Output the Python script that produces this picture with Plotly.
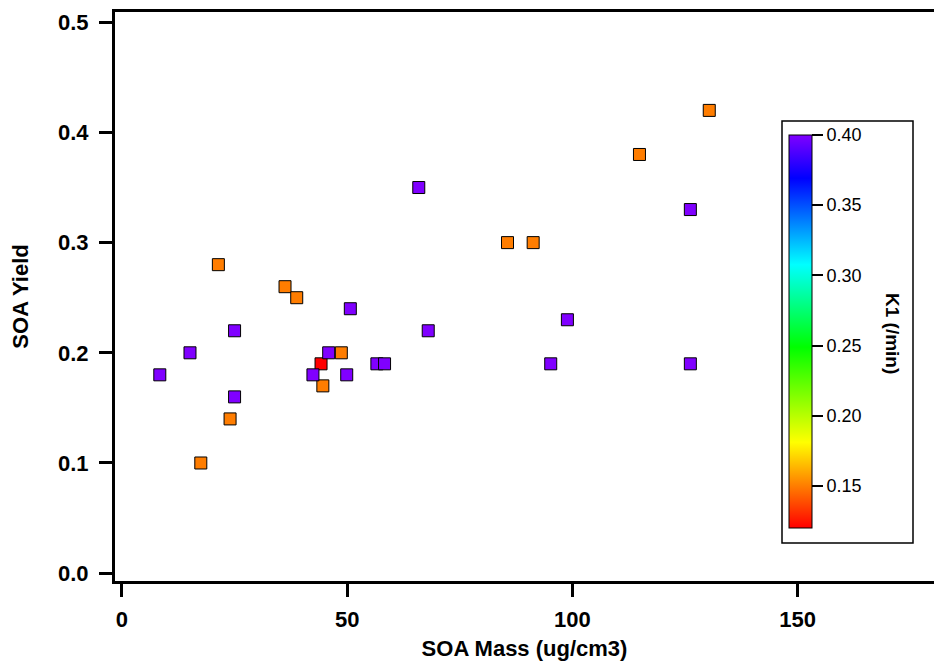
import plotly.graph_objects as go

# SOA mass (ug/cm3), SOA yield, K1 (/min)
soa_mass = [17.5, 21.4, 24.0, 36.2, 38.8, 44.6, 48.7, 85.6, 91.3, 114.9, 130.4,
            44.2,
            8.4, 15.1, 25.0, 25.0, 42.4, 45.9, 49.9, 50.7, 56.6, 58.3, 65.9, 68.0,
            95.2, 98.9, 126.2, 126.2]
soa_yield = [0.10, 0.28, 0.14, 0.26, 0.25, 0.17, 0.20, 0.30, 0.30, 0.38, 0.42,
             0.19,
             0.18, 0.20, 0.22, 0.16, 0.18, 0.20, 0.18, 0.24, 0.19, 0.19, 0.35, 0.22,
             0.19, 0.23, 0.33, 0.19]
k1 = [0.15, 0.15, 0.15, 0.15, 0.15, 0.15, 0.15, 0.15, 0.15, 0.15, 0.15,
      0.12,
      0.40, 0.40, 0.40, 0.40, 0.40, 0.40, 0.40, 0.40, 0.40, 0.40, 0.40, 0.40,
      0.40, 0.40, 0.40, 0.40]

x_ticks = [0, 50, 100, 150]
y_ticks = [0.0, 0.1, 0.2, 0.3, 0.4, 0.5]
cb_ticks = [0.15, 0.20, 0.25, 0.30, 0.35, 0.40]

rainbow = [[0.0, "rgb(255,0,0)"], [0.218, "rgb(255,255,0)"], [0.46, "rgb(0,255,0)"],
           [0.67, "rgb(0,255,255)"], [0.89, "rgb(0,0,255)"], [1.0, "rgb(128,0,255)"]]

FONT = "Liberation Sans, Arial, sans-serif"

# plot area in pixels
L, R, T, B = 115, 0, 12, 85
W, H = 934, 666
pw = W - L - R
ph = H - T - B

def px_x(px):
    return (px - L) / pw

def px_y(py):
    return (H - B - py) / ph

fig = go.Figure()
fig.add_trace(go.Scatter(
    x=soa_mass, y=soa_yield, mode="markers",
    marker=dict(symbol="square", size=12, color=k1, colorscale=rainbow,
                cmin=0.12, cmax=0.40,
                line=dict(color="black", width=1),
                colorbar=dict(
                    x=px_x(789), xanchor="left", xpad=0,
                    y=px_y(135), yanchor="top", ypad=0,
                    len=393, lenmode="pixels", thickness=23, thicknessmode="pixels",
                    outlinewidth=1, outlinecolor="black", borderwidth=0,
                    tickvals=cb_ticks, tickformat=".2f", tickprefix="\u00a0",
                    ticks="outside", ticklen=11, tickwidth=1.5, tickcolor="black",
                    tickfont=dict(family=FONT, size=18, color="black"),
                    ticklabelposition="outside",
                )),
    showlegend=False,
))

fig.update_layout(
    width=W, height=H,
    margin=dict(l=L, r=R, t=T, b=B, pad=0),
    paper_bgcolor="white", plot_bgcolor="white",
    font=dict(family=FONT, color="black"),
    xaxis=dict(range=[-1.55, 180.3], tickvals=x_ticks, ticktext=[str(v) for v in x_ticks],
               showgrid=False, zeroline=False,
               showline=True, linewidth=3, linecolor="black", mirror=True,
               ticks="outside", ticklen=13, tickwidth=3, tickcolor="black",
               ticklabelstandoff=4,
               tickfont=dict(family=FONT, size=22, color="black", weight="bold"),
               title=dict(text="SOA Mass (ug/cm3)", standoff=10,
                          font=dict(family=FONT, size=22, color="black", weight="bold"))),
    yaxis=dict(range=[-0.0071, 0.5093], tickvals=y_ticks, ticktext=[f"{v:.1f}" for v in y_ticks],
               showgrid=False, zeroline=False,
               showline=True, linewidth=3, linecolor="black", mirror=False,
               ticks="outside", ticklen=13, tickwidth=3, tickcolor="black",
               ticklabelstandoff=6,
               tickfont=dict(family=FONT, size=22, color="black", weight="bold"),
               title=dict(text="SOA Yield", standoff=24,
                          font=dict(family=FONT, size=22, color="black", weight="bold"))),
    shapes=[dict(type="rect", xref="paper", yref="paper",
                 x0=px_x(782), x1=px_x(913), y0=px_y(543), y1=px_y(121),
                 line=dict(color="black", width=1.5), fillcolor="rgba(0,0,0,0)", layer="below")],
    annotations=[dict(text="K1 (/min)", xref="paper", yref="paper",
                      x=px_x(893), y=px_y(333), xanchor="center", yanchor="middle",
                      showarrow=False, textangle=90,
                      font=dict(family=FONT, size=19, color="black", weight="bold"))],
)

fig.write_html("out.html")
